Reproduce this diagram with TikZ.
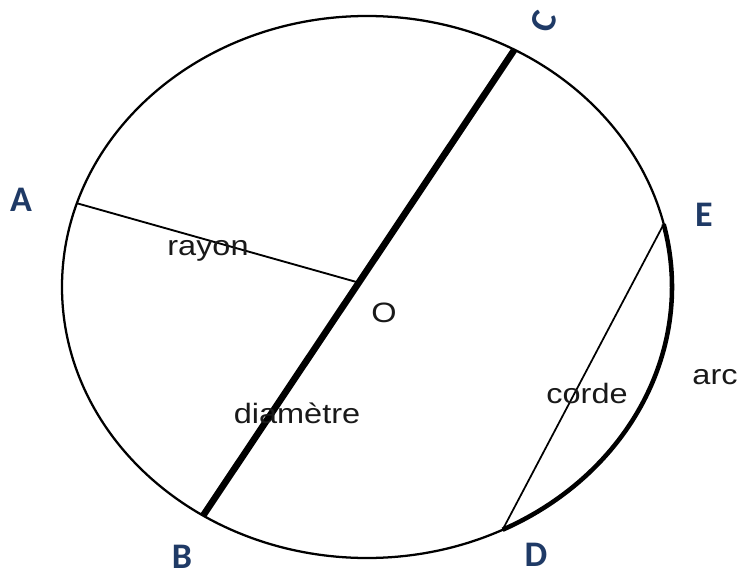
\documentclass[tikz,border=0pt]{standalone}
\usepackage{fontspec}
\setmainfont{Liberation Sans}
\newfontfamily\lblfont{Carlito}
\usetikzlibrary{calc}
\definecolor{lblblue}{HTML}{1F3A66}
\begin{document}
\begin{tikzpicture}[x=0.75pt,y=-0.75pt,
  outline/.style={line width=1.7pt,black},
  radiusline/.style={line width=1.4pt,black},
  diamline/.style={line width=5pt,black},
  chordline/.style={line width=1.3pt,black},
  arcline/.style={line width=3.4pt,black},
  ptlabel/.style={font=\lblfont\bfseries\fontsize{27}{30}\selectfont,text=lblblue,inner sep=0pt},
  word/.style={font=\fontsize{21}{24}\selectfont,text=black!90,inner sep=0pt,anchor=base,xscale=1.16}]
\useasboundingbox (0,0) rectangle (741,577);
% ellipse
\draw[outline] (367,287) ellipse [x radius=305, y radius=271];
% points on the ellipse
\coordinate (A) at ({367+305*cos(198)},{287+271*sin(198)});
\coordinate (C) at ({367+305*cos(-61.1)},{287+271*sin(-61.1)});
\coordinate (B) at ({367+305*cos(122.5)},{287+271*sin(122.5)});
\coordinate (E) at ({367+305*cos(-13.4)},{287+271*sin(-13.4)});
\coordinate (D) at ({367+305*cos(63.6)},{287+271*sin(63.6)});
\coordinate (O) at ($(B)!0.5!(C)$);
% segments
\draw[radiusline] (A) -- (O);
\draw[diamline] (B) -- (C);
\draw[chordline] (D) -- (E);
\draw[arcline] (E) arc[start angle=-13.4, end angle=63.6, x radius=305, y radius=271];
% point labels
\node[ptlabel] (lA) at (21,200) {A};
\node[ptlabel] (lB) at (182,557) {B};
\node[ptlabel,rotate=70] (lC) at (544,22) {C};
\node[ptlabel] (lD) at (536,555) {D};
\node[ptlabel] (lE) at (704,215) {E};
% words
\node[word] (trayon) at (208,255) {rayon};
\node[word] (tO) at (384,322) {O};
\node[word] (tdiam) at (297,423) {diamètre};
\node[word] (tcorde) at (587,403) {corde};
\node[word] (tarc) at (715,384) {arc};
\end{tikzpicture}
\end{document}
